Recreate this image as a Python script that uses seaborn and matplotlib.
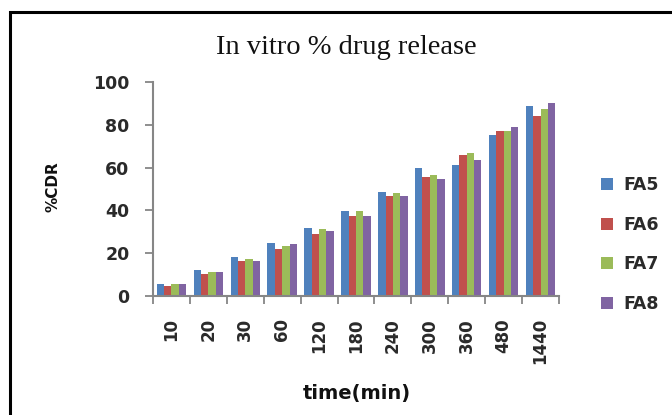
import matplotlib
matplotlib.use("Agg")
import matplotlib.pyplot as plt
import seaborn as sns
import pandas as pd
from matplotlib.patches import Rectangle

# Cumulative drug release (%CDR) for each formulation at each sampling time
times = ["10", "20", "30", "60", "120", "180", "240", "300", "360", "480", "1440"]
fa5 = [5.8, 12.0, 18.0, 25.0, 31.9, 39.5, 48.8, 59.6, 61.1, 75.0, 89.0]
fa6 = [4.8, 10.4, 16.5, 21.8, 28.8, 37.3, 46.5, 55.7, 65.8, 77.3, 84.3]
fa7 = [5.7, 11.2, 17.3, 23.5, 31.1, 39.5, 48.1, 56.5, 66.6, 77.3, 87.4]
fa8 = [5.8, 11.2, 16.5, 24.3, 30.3, 37.3, 46.5, 54.9, 63.5, 78.8, 90.4]
series_names = ["FA5", "FA6", "FA7", "FA8"]
colors = ["#4F81BD", "#C0504D", "#9BBB59", "#8064A2"]

rows = []
for name, vals in zip(series_names, [fa5, fa6, fa7, fa8]):
    for t, v in zip(times, vals):
        rows.append({"time": t, "CDR": v, "series": name})
df = pd.DataFrame(rows)

sns.set_style("white")
plt.rcParams["font.family"] = ["DejaVu Sans"]

fig = plt.figure(figsize=(6.72, 4.15), dpi=100)
ax = fig.add_axes([153 / 672, 1 - 296 / 415, (559 - 153) / 672, (296 - 82) / 415])

sns.barplot(data=df, x="time", y="CDR", hue="series", order=times,
            hue_order=series_names, palette=colors, width=0.8,
            linewidth=0, saturation=1, ax=ax, legend=True)

ax.set_ylim(0, 100)
ax.set_xlim(-0.5, len(times) - 0.5)
ax.set_yticks([0, 20, 40, 60, 80, 100])
ax.tick_params(axis="y", direction="out", length=6, width=1.3, color="#868686",
               pad=11, labelsize=12.5, left=True)
ax.set_yticklabels(["0", "20", "40", "60", "80", "100"], fontweight="bold",
                   color="#2a2a2a")

# category labels at centres, tick marks at boundaries
ax.set_xticks(range(len(times)))
ax.set_xticklabels(times, rotation=90, fontsize=12, fontweight="bold",
                   color="#2a2a2a", va="top")
ax.tick_params(axis="x", which="major", length=0, pad=16)
ax.set_xticks([i - 0.5 for i in range(len(times) + 1)], minor=True)
ax.tick_params(axis="x", which="minor", direction="out", length=6, width=1.3,
               color="#868686", bottom=True)

for side in ["top", "right"]:
    ax.spines[side].set_visible(False)
for side in ["left", "bottom"]:
    ax.spines[side].set_color("#868686")
    ax.spines[side].set_linewidth(1.5)

ax.set_xlabel("")
ax.set_ylabel("")
fig.text(53 / 672, 1 - 187 / 415, "%CDR", rotation=90, ha="center", va="center",
         fontsize=11, fontweight="bold", color="#111111")
fig.text(357 / 672, 1 - 393 / 415, "time(min)", ha="center", va="center",
         fontsize=14, fontweight="bold", color="#111111")
fig.text(346 / 672, 1 - 54 / 415, "In vitro % drug release", ha="center",
         va="baseline", fontsize=20.5, family=["Liberation Serif"], color="#111111")

leg = ax.legend(loc="upper left", bbox_to_anchor=(601 / 672, 1 - 176 / 415),
                bbox_transform=fig.transFigure, frameon=False, fontsize=12.5,
                handlelength=0.7, handleheight=0.7, handletextpad=0.6,
                labelspacing=1.25, borderaxespad=0, borderpad=0)
for txt in leg.get_texts():
    txt.set_fontweight("bold")
    txt.set_color("#2a2a2a")

# outer chart frame
fig.patches.append(Rectangle((10 / 672, -0.1), 1.2, 1 - 12.5 / 415 + 0.1,
                             transform=fig.transFigure, fill=False,
                             edgecolor="black", linewidth=2.2))

fig.savefig("out.png", dpi=100)
